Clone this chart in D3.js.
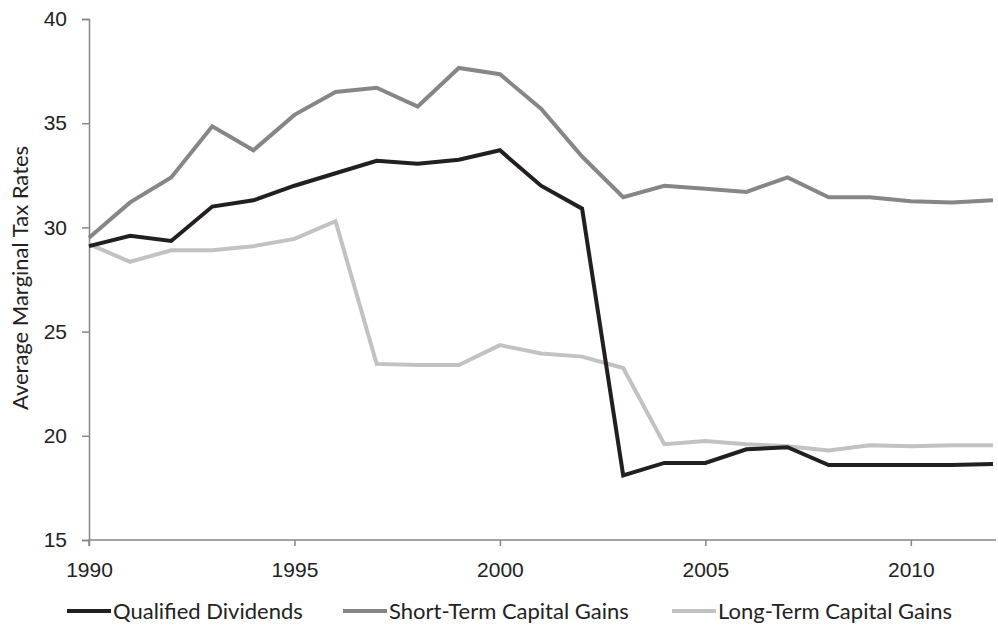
<!DOCTYPE html>
<html>
<head>
<meta charset="utf-8">
<script src="https://cdn.jsdelivr.net/npm/d3@7"></script>
<style>
  body { margin: 0; background: #fff; }
  svg { font-family: Lato, "Open Sans", sans-serif; }
</style>
</head>
<body>
<svg id="chart" width="998" height="636"></svg>
<script>
const years = d3.range(1990, 2013);
const qualifiedDividends = [29.1, 29.6, 29.35, 31.0, 31.3, 32.0, 32.6, 33.2, 33.05, 33.25, 33.7, 32.0, 30.9,
    18.1, 18.7, 18.7, 19.35, 19.45, 18.6, 18.6, 18.6, 18.6, 18.65];
const shortTermGains = [29.5, 31.2, 32.4, 34.85, 33.7, 35.4, 36.5, 36.7, 35.8, 37.65, 37.35, 35.7, 33.4,
    31.45, 32.0, 31.85, 31.7, 32.4, 31.45, 31.45, 31.25, 31.2, 31.3];
const longTermGains = [29.2, 28.35, 28.9, 28.9, 29.1, 29.45, 30.3, 23.45, 23.4, 23.4, 24.35, 23.95, 23.8,
    23.25, 19.6, 19.75, 19.6, 19.5, 19.3, 19.55, 19.5, 19.55, 19.55];
const yTicks = [15, 20, 25, 30, 35, 40];
const xTicks = [1990, 1995, 2000, 2005, 2010];

const series = [
    { name: "Qualified Dividends", values: qualifiedDividends, color: "#231f20" },
    { name: "Short-Term Capital Gains", values: shortTermGains, color: "#858688" },
    { name: "Long-Term Capital Gains", values: longTermGains, color: "#c1c2c4" }
];

const svg = d3.select("#chart");
const margin = { top: 19, right: 5, bottom: 96, left: 89 };
const width = 998 - margin.left - margin.right;
const height = 636 - margin.top - margin.bottom;
const axisColor = "#868686";

const g = svg.append("g")
    .attr("transform", `translate(${margin.left},${margin.top})`);

const x = d3.scaleLinear().domain([1990, 2012]).range([0, width]);
const y = d3.scaleLinear().domain([15, 40]).range([height, 0]);

// y axis
const yAxis = g.append("g")
    .call(d3.axisLeft(y).tickValues(yTicks).tickSize(7).tickPadding(15));
yAxis.select(".domain").attr("stroke", axisColor).attr("stroke-width", 1.5);
yAxis.selectAll(".tick line").attr("stroke", axisColor).attr("stroke-width", 1.5);
yAxis.selectAll(".tick text").attr("fill", "#222").style("font-size", "21px");

// x axis
const xAxis = g.append("g")
    .attr("transform", `translate(0,${height})`)
    .call(d3.axisBottom(x).tickValues(xTicks).tickFormat(d3.format("d")).tickSize(6).tickPadding(16));
xAxis.select(".domain").attr("stroke", axisColor).attr("stroke-width", 1.5)
    .attr("d", `M0,6V0H${width + 3}`);
xAxis.selectAll(".tick line").attr("stroke", axisColor).attr("stroke-width", 1.5);
xAxis.selectAll(".tick text").attr("fill", "#222").style("font-size", "21px");

// axis title
g.append("text")
    .attr("transform", "rotate(-90)")
    .attr("x", -259)
    .attr("y", -61)
    .attr("text-anchor", "middle")
    .attr("fill", "#222")
    .style("font-size", "22px")
    .text("Average Marginal Tax Rates");

// lines
const line = d3.line()
    .x((d, i) => x(years[i]))
    .y(d => y(d));

// light first so the darker lines sit on top
[series[2], series[1], series[0]].forEach(s => {
    g.append("path")
        .datum(s.values)
        .attr("fill", "none")
        .attr("stroke", s.color)
        .attr("stroke-width", 4)
        .attr("stroke-linejoin", "miter")
        .attr("d", line);
});

// legend
const legendStarts = [67, 343, 672];
const legend = svg.append("g").attr("transform", "translate(0,611)");
series.forEach((s, i) => {
    const item = legend.append("g").attr("transform", `translate(${legendStarts[i]},0)`);
    item.append("line")
        .attr("x1", 0).attr("x2", 44)
        .attr("y1", 0).attr("y2", 0)
        .attr("stroke", s.color)
        .attr("stroke-width", 4);
    item.append("text")
        .attr("x", 46)
        .attr("dy", "0.35em")
        .attr("fill", "#222")
        .style("font-size", "22px")
        .text(s.name);
});
</script>
</body>
</html>
